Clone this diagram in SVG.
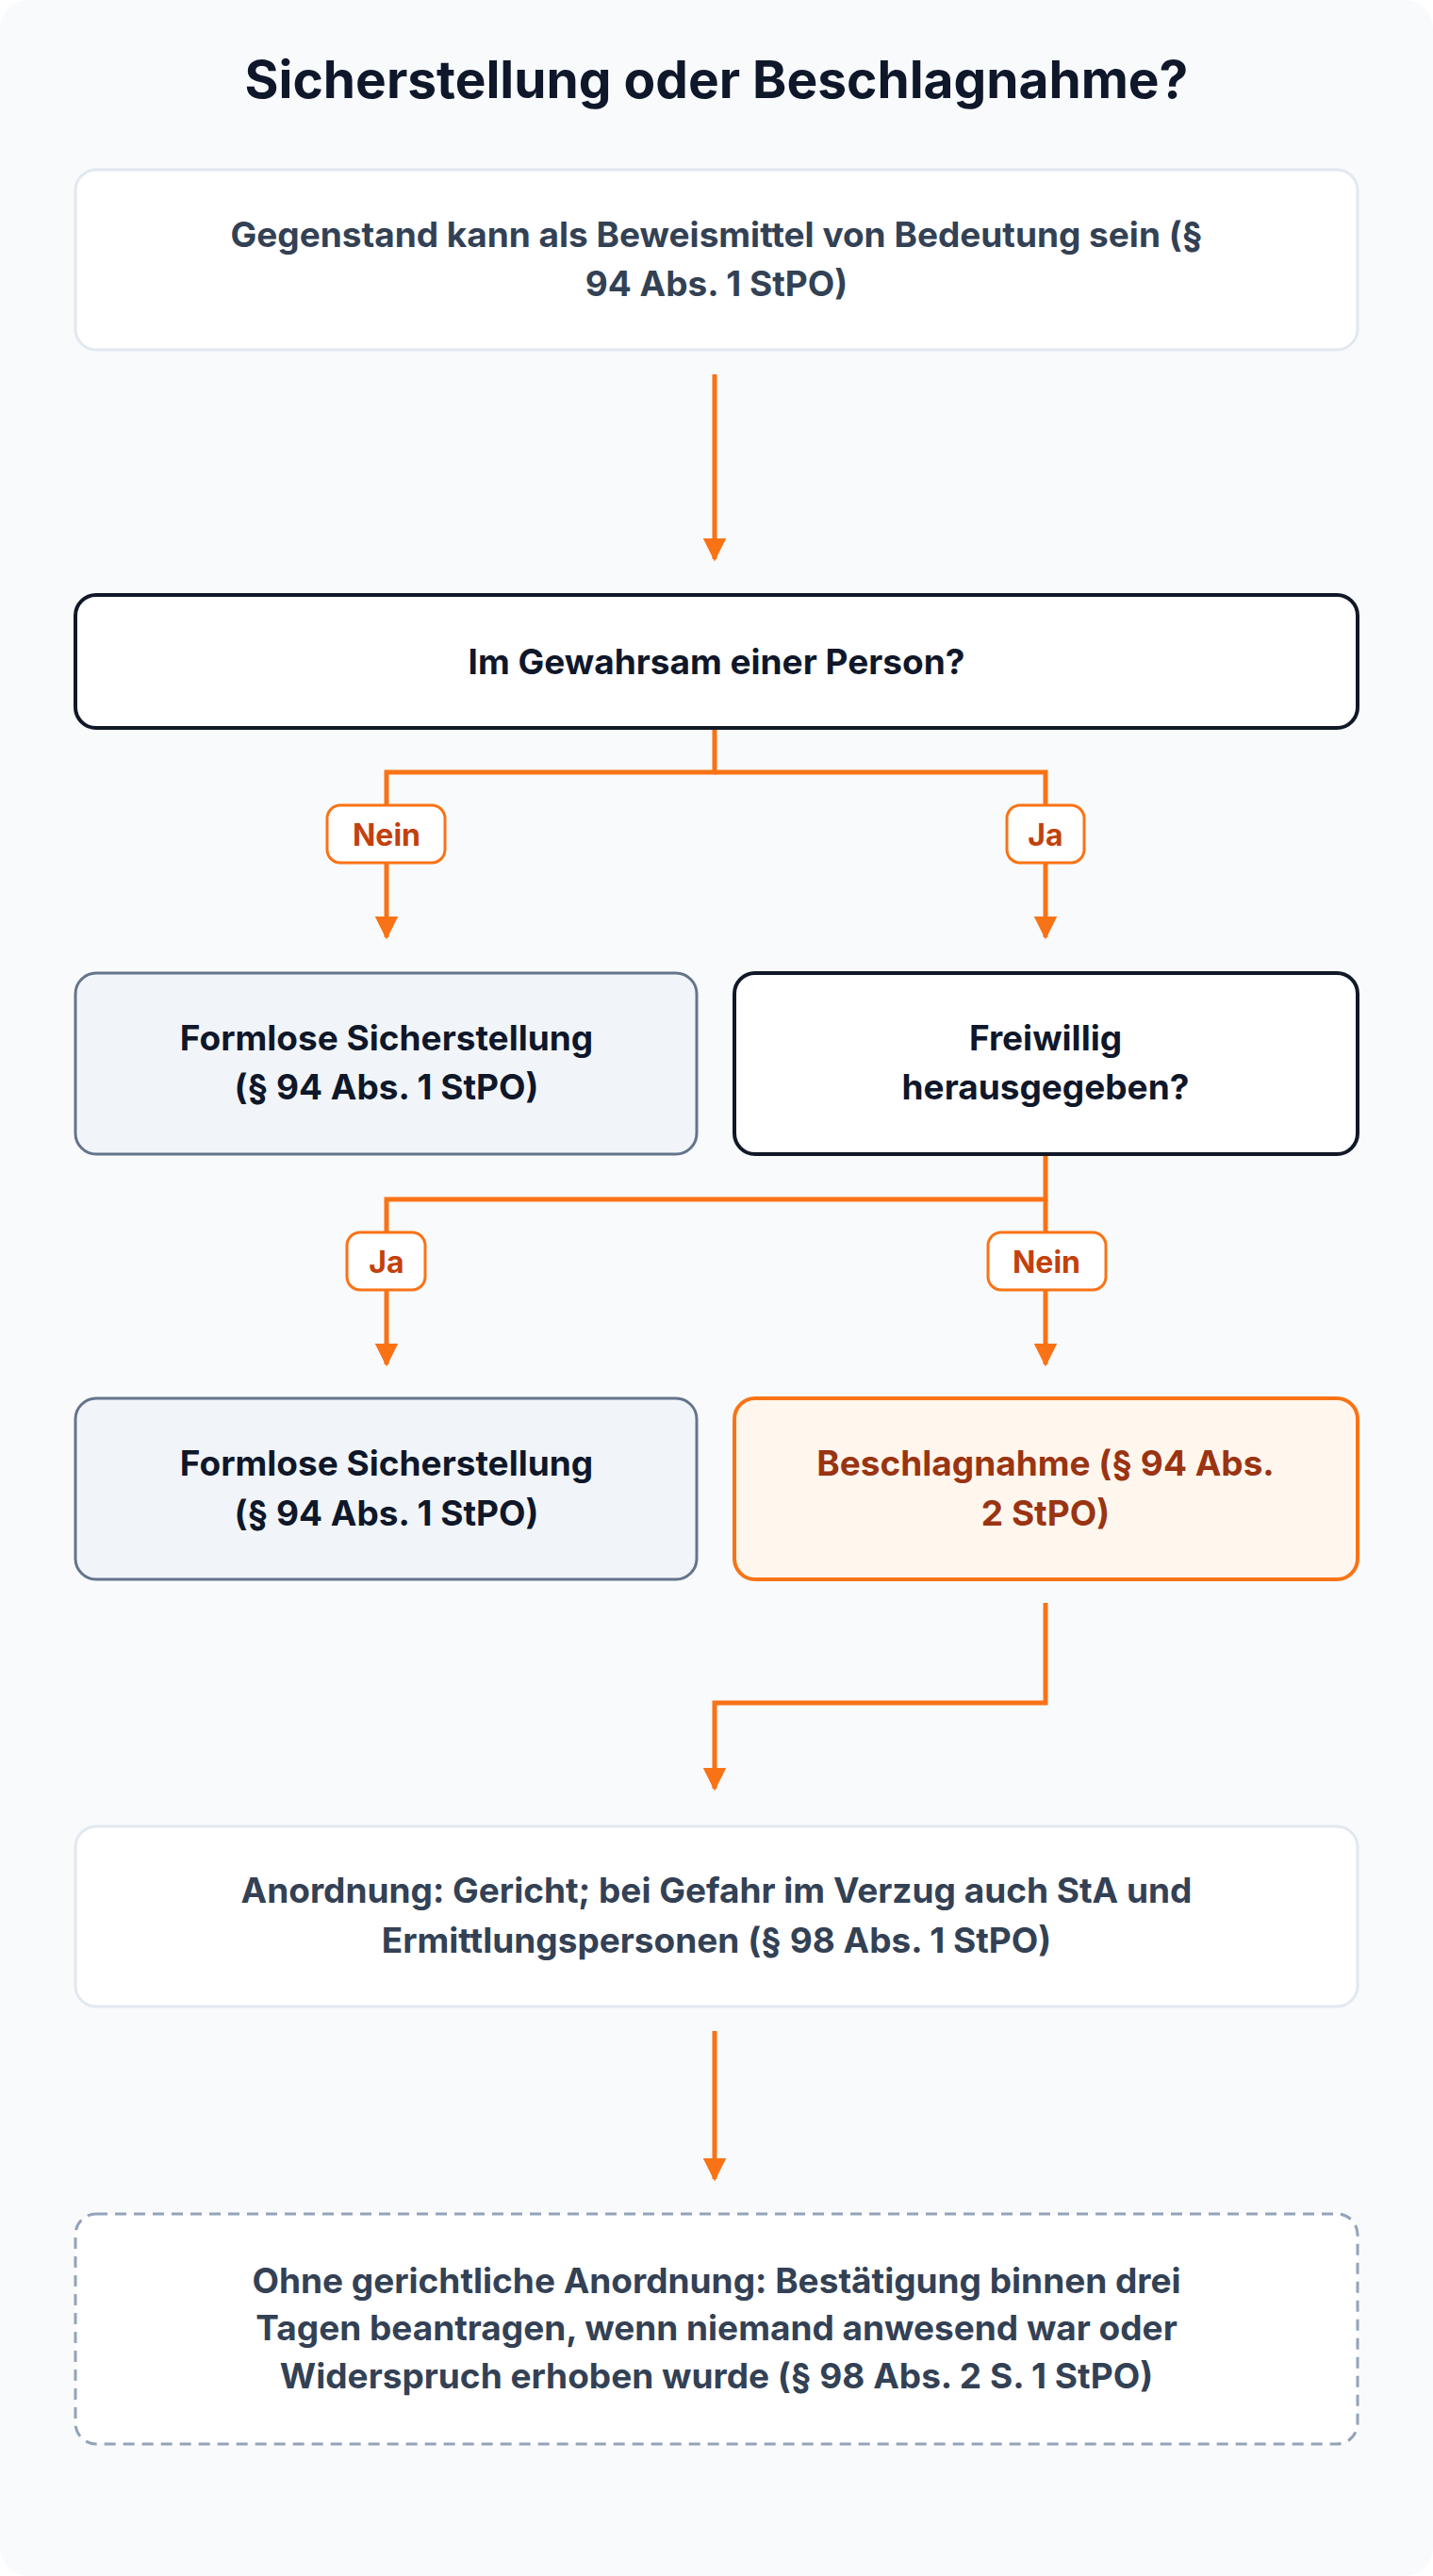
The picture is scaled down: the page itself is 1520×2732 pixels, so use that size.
<svg xmlns="http://www.w3.org/2000/svg" width="1520" height="2732" viewBox="0 0 1520 2732">
<defs>
<style>
.t{font-family:Inter,"Noto Sans",sans-serif;font-weight:700;font-size:37px;text-anchor:middle;dominant-baseline:central}
.dk{fill:#0f172a}.sl{fill:#334155}.br{fill:#9a3412}
.c{fill:none;stroke:#f97316;stroke-width:5}
.lb{fill:#fff;stroke:#f97316;stroke-width:3}
.lt{font-family:Inter,"Noto Sans",sans-serif;font-weight:700;font-size:32px;text-anchor:middle;dominant-baseline:central;fill:#c2410c}
</style>
<marker id="a" viewBox="0 0 10 10" refX="9" refY="5" markerWidth="5" markerHeight="5" orient="auto" markerUnits="strokeWidth"><path d="M0,0L10,5L0,10z" fill="#f97316"/></marker>
</defs>
<rect width="1520" height="2732" rx="30" fill="#f8fafc"/>
<text x="760" y="84" class="t dk" style="font-size:55px">Sicherstellung oder Beschlagnahme?</text>
<g id="connectors">
<path class="c" d="M758,397V593" marker-end="url(#a)"/>
<path class="c" d="M758,772V819H410V994" marker-end="url(#a)"/>
<path class="c" d="M758,819H1109V994" marker-end="url(#a)"/>
<path class="c" d="M1109,1224V1272H410V1447" marker-end="url(#a)"/>
<path class="c" d="M1109,1272V1447" marker-end="url(#a)"/>
<path class="c" d="M1109,1700V1806H758V1897" marker-end="url(#a)"/>
<path class="c" d="M758,2154V2311" marker-end="url(#a)"/>
<rect class="lb" x="347" y="854" width="125" height="61" rx="14"/><text class="lt" x="410" y="885">Nein</text>
<rect class="lb" x="1068" y="854" width="82" height="61" rx="14"/><text class="lt" x="1109" y="885">Ja</text>
<rect class="lb" x="368" y="1307" width="83" height="61" rx="14"/><text class="lt" x="410" y="1338">Ja</text>
<rect class="lb" x="1048" y="1307" width="125" height="61" rx="14"/><text class="lt" x="1110" y="1338">Nein</text>
</g>
<g id="n1"><rect x="80" y="180" width="1360" height="191" rx="22" fill="#fff" stroke="#e2e8f0" stroke-width="3"/>
<text class="t sl" x="760" y="248">Gegenstand kann als Beweismittel von Bedeutung sein (§</text><text class="t sl" x="760" y="300">94 Abs. 1 StPO)</text></g>
<g id="n2"><rect x="80" y="631" width="1360" height="141" rx="22" fill="#fff" stroke="#111827" stroke-width="4"/>
<text class="t dk" x="760" y="701">Im Gewahrsam einer Person?</text></g>
<g id="n3"><rect x="80" y="1032" width="659" height="192" rx="22" fill="#f1f5f9" stroke="#64748b" stroke-width="3"/>
<text class="t dk" x="410" y="1100">Formlose Sicherstellung</text><text class="t dk" x="410" y="1152">(§ 94 Abs. 1 StPO)</text></g>
<g id="n4"><rect x="779" y="1032" width="661" height="192" rx="22" fill="#fff" stroke="#111827" stroke-width="4"/>
<text class="t dk" x="1109" y="1100">Freiwillig</text><text class="t dk" x="1109" y="1152">herausgegeben?</text></g>
<g id="n5"><rect x="80" y="1483" width="659" height="192" rx="22" fill="#f1f5f9" stroke="#64748b" stroke-width="3"/>
<text class="t dk" x="410" y="1551">Formlose Sicherstellung</text><text class="t dk" x="410" y="1604">(§ 94 Abs. 1 StPO)</text></g>
<g id="n6"><rect x="779" y="1483" width="661" height="192" rx="22" fill="#fff7ed" stroke="#f97316" stroke-width="4"/>
<text class="t br" x="1109" y="1551">Beschlagnahme (§ 94 Abs.</text><text class="t br" x="1109" y="1604">2 StPO)</text></g>
<g id="n7"><rect x="80" y="1937" width="1360" height="191" rx="22" fill="#fff" stroke="#e2e8f0" stroke-width="3"/>
<text class="t sl" x="760" y="2004">Anordnung: Gericht; bei Gefahr im Verzug auch StA und</text><text class="t sl" x="760" y="2057">Ermittlungspersonen (§ 98 Abs. 1 StPO)</text></g>
<g id="n8"><rect x="80" y="2348" width="1360" height="244" rx="22" fill="#fff" stroke="#94a3b8" stroke-width="3" stroke-dasharray="12 8"/>
<text class="t sl" x="760" y="2418">Ohne gerichtliche Anordnung: Bestätigung binnen drei</text><text class="t sl" x="760" y="2468">Tagen beantragen, wenn niemand anwesend war oder</text><text class="t sl" x="760" y="2519">Widerspruch erhoben wurde (§ 98 Abs. 2 S. 1 StPO)</text></g>
</svg>
